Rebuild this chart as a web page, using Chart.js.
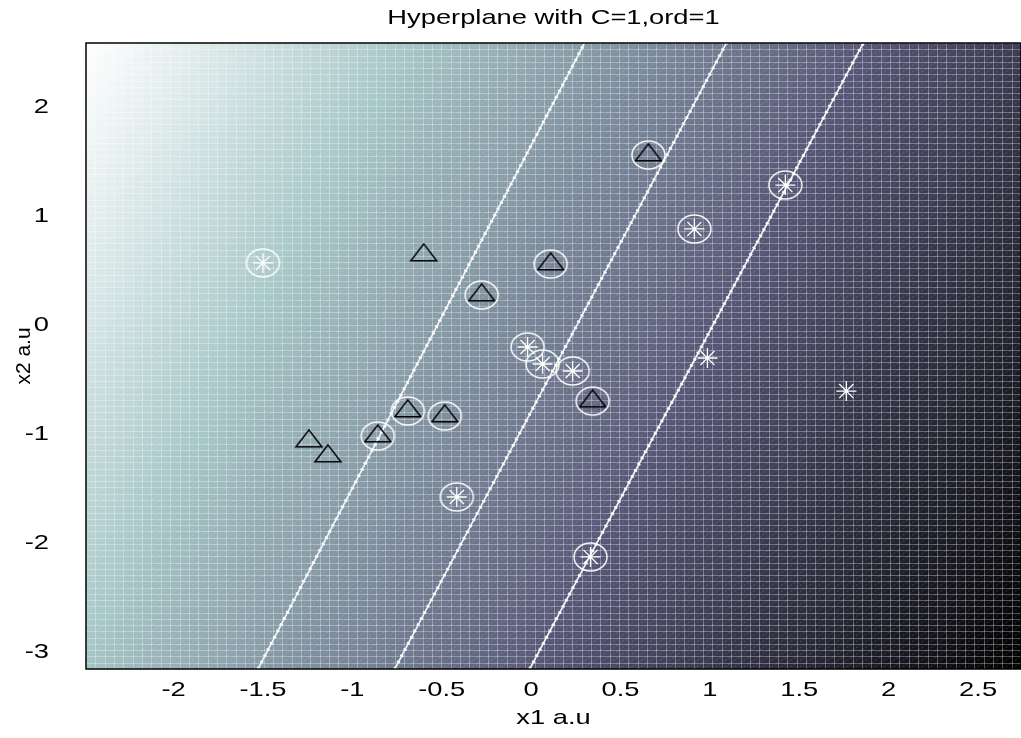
<!DOCTYPE html>
<html>
<head>
<meta charset="utf-8">
<title>Hyperplane with C=1,ord=1</title>
<script src="https://cdn.jsdelivr.net/npm/chart.js@4.4.1/dist/chart.umd.min.js"></script>
<style>
  html, body { margin: 0; padding: 0; background: #fff; }
  #wrap { width: 1021px; height: 738px; }
</style>
</head>
<body>
<div id="wrap"><canvas id="chart" width="1021" height="738"></canvas></div>
<script>
// class +1 samples (triangles), 1 = support vector (circled)
const triX  = [0.656, -0.601, 0.109, -0.277, -1.243, -1.137, -0.858, -0.690, -0.483, 0.344];
const triY  = [1.559, 0.642, 0.559, 0.275, -1.065, -1.202, -1.019, -0.789, -0.835, -0.698];
const triSV = [1, 0, 1, 1, 0, 0, 1, 1, 1, 1];

// class -1 samples (asterisks)
const starX  = [-1.500, 1.422, 0.913, -0.020, 0.064, 0.232, 0.986, 1.763, -0.416, 0.332];
const starY  = [0.569, 1.284, 0.881, -0.202, -0.358, -0.422, -0.303, -0.606, -1.578, -2.128];
const starSV = [1, 1, 1, 1, 1, 1, 0, 0, 1, 1];

// hyperplane and the two margins, x at the bottom / top of the axes
const lineY      = [-3.156, 2.587];
const marginPosX = [-1.528, 0.299];
const planeX     = [-0.763, 1.092];
const marginNegX = [-0.008, 1.858];

// decision function f = w1*x1 + w2*x2 + b (shaded background)
const weights = [-1.307, 0.419];
const bias = 0.327;

const xRange = [-2.49, 2.74];
const yRange = [-3.156, 2.587];
const xTicks = [-2, -1.5, -1, -0.5, 0, 0.5, 1, 1.5, 2, 2.5];
const yTicks = [-3, -2, -1, 0, 1, 2];

const FONT = { family: '"Liberation Sans", Arial, sans-serif', size: 21, weight: 'normal' };
const STRETCH = 1.3;

// matlab "bone" colormap
function bone(t) {
  t = Math.min(1, Math.max(0, t));
  const hr = Math.min(1, t / 0.375);
  const hg = Math.min(1, Math.max(0, (t - 0.375) / 0.375));
  const hb = Math.max(0, (t - 0.75) / 0.25);
  return [(7 * t + hb) / 8, (7 * t + hg) / 8, (7 * t + hr) / 8].map(v => Math.round(v * 255));
}

function triangleMarker() {
  const c = document.createElement('canvas');
  c.width = 30; c.height = 24;
  const g = c.getContext('2d');
  g.strokeStyle = '#000'; g.lineWidth = 1.5;
  g.beginPath();
  g.moveTo(15, 0.9); g.lineTo(28, 17.8); g.lineTo(2, 17.8); g.closePath();
  g.stroke();
  return c;
}

function circleMarker() {
  const c = document.createElement('canvas');
  c.width = 37; c.height = 32;
  const g = c.getContext('2d');
  g.strokeStyle = 'rgba(255,255,255,0.95)'; g.lineWidth = 1.5;
  g.beginPath();
  g.ellipse(18.5, 16, 16.5, 14, 0, 0, Math.PI * 2);
  g.stroke();
  return c;
}

// wide text like the reference rendering (horizontal text only)
const stretchText = {
  id: 'stretchText',
  beforeInit(chart) {
    const ctx = chart.ctx;
    const orig = ctx.fillText.bind(ctx);
    ctx.fillText = function (t, x, y) {
      const m = this.getTransform();
      if (Math.abs(m.b) > 0.5) { orig(t, x, y); return; }
      this.save();
      this.translate(x, y);
      this.scale(STRETCH, 1);
      orig(t, 0, 0);
      this.restore();
    };
  }
};

// pcolor-like shaded mesh of the decision function
const meshPlugin = {
  id: 'mesh',
  beforeDatasetsDraw(chart) {
    const { ctx, chartArea: a, scales: { x, y } } = chart;
    const n = 100;
    const xs = [], ys = [];
    for (let i = 0; i <= n; i++) {
      xs.push(xRange[0] + (xRange[1] - xRange[0]) * i / n);
      ys.push(yRange[0] + (yRange[1] - yRange[0]) * i / n);
    }
    const f = (u, v) => weights[0] * u + weights[1] * v + bias;
    const corners = [f(xs[0], ys[0]), f(xs[n], ys[0]), f(xs[0], ys[n]), f(xs[n], ys[n])];
    const lo = Math.min(...corners), hi = Math.max(...corners);
    const px = xs.map(v => x.getPixelForValue(v));
    const py = ys.map(v => y.getPixelForValue(v));

    ctx.save();
    ctx.beginPath(); ctx.rect(a.left, a.top, a.width, a.height); ctx.clip();
    for (let i = 0; i < n; i++) {
      for (let j = 0; j < n; j++) {
        const c = bone((f((xs[i] + xs[i + 1]) / 2, (ys[j] + ys[j + 1]) / 2) - lo) / (hi - lo));
        ctx.fillStyle = 'rgb(' + c.join(',') + ')';
        ctx.fillRect(px[i], py[j + 1], px[i + 1] - px[i] + 0.7, py[j] - py[j + 1] + 0.7);
      }
    }
    // cell edges
    ctx.strokeStyle = 'rgba(255,255,255,0.3)';
    ctx.lineWidth = 1;
    ctx.beginPath();
    px.forEach(p => { const q = Math.round(p) + 0.5; ctx.moveTo(q, a.top); ctx.lineTo(q, a.bottom); });
    py.forEach(p => { const q = Math.round(p) + 0.5; ctx.moveTo(a.left, q); ctx.lineTo(a.right, q); });
    ctx.stroke();
    // faint diagonals of the triangulated faces
    ctx.strokeStyle = 'rgba(255,255,255,0.18)';
    ctx.setLineDash([2, 2]);
    ctx.beginPath();
    for (let i = 0; i < n; i++) {
      for (let j = 0; j < n; j++) {
        ctx.moveTo(px[i], py[j]);
        ctx.lineTo(px[i + 1], py[j + 1]);
      }
    }
    ctx.stroke();
    ctx.restore();
  }
};

const framePlugin = {
  id: 'frame',
  afterDraw(chart) {
    const { ctx, chartArea: a } = chart;
    ctx.save();
    ctx.strokeStyle = '#000';
    ctx.lineWidth = 1.5;
    ctx.strokeRect(a.left, a.top, a.right - a.left, a.bottom - a.top);
    ctx.restore();
  }
};

const pts = (xa, ya, keep) => xa.map((v, i) => ({ x: v, y: ya[i] })).filter((p, i) => !keep || keep[i]);
const linePts = xa => lineY.map((v, i) => ({ x: xa[i], y: v }));

function lineSet(label, xa, dashed) {
  return {
    type: 'line', label, data: linePts(xa),
    borderColor: dashed ? 'rgba(255,255,255,0.9)' : 'rgba(255,255,255,0.95)',
    borderWidth: dashed ? 3.5 : 1.6,
    borderDash: dashed ? [2, 5] : [],
    pointRadius: 0, fill: false, order: 5
  };
}

new Chart(document.getElementById('chart'), {
  type: 'scatter',
  data: {
    datasets: [
      lineSet('f = +1', marginPosX, false),
      lineSet('f = +1 marks', marginPosX, true),
      lineSet('f = 0', planeX, false),
      lineSet('f = 0 marks', planeX, true),
      lineSet('f = -1', marginNegX, false),
      lineSet('f = -1 marks', marginNegX, true),
      {
        label: 'class 1', data: pts(triX, triY),
        pointStyle: triangleMarker(), pointRadius: 12, order: 2
      },
      {
        label: 'class 2', data: pts(starX, starY),
        pointStyle: 'star', pointRadius: 10, borderColor: '#fff', borderWidth: 1.3,
        backgroundColor: 'transparent', order: 2
      },
      {
        label: 'support vectors',
        data: pts(triX, triY, triSV).concat(pts(starX, starY, starSV)),
        pointStyle: circleMarker(), pointRadius: 16, order: 1
      }
    ]
  },
  options: {
    responsive: false,
    animation: false,
    events: [],
    layout: { padding: 0, autoPadding: false },
    plugins: {
      legend: { display: false },
      tooltip: { enabled: false },
      title: {
        display: true, fullSize: false, text: 'Hyperplane with C=1,ord=1', color: '#000',
        font: FONT, padding: { top: 5.4, bottom: 12.4 }
      }
    },
    scales: {
      x: {
        type: 'linear', min: xRange[0], max: xRange[1],
        afterBuildTicks: s => { s.ticks = xTicks.map(v => ({ value: v })); },
        afterFit: s => { s.height = 69; s.paddingLeft = 0; s.paddingRight = 0; },
        grid: { display: false, drawTicks: false },
        border: { display: false },
        ticks: { color: '#000', font: FONT, padding: 9, maxRotation: 0, autoSkip: false, callback: v => String(v) },
        title: { display: true, text: 'x1 a.u', color: '#000', font: FONT, padding: { top: 0, bottom: 7 } }
      },
      y: {
        type: 'linear', min: yRange[0], max: yRange[1],
        afterBuildTicks: s => { s.ticks = yTicks.map(v => ({ value: v })); },
        afterFit: s => { s.width = 86; s.paddingTop = 0; s.paddingBottom = 0; },
        grid: { display: false, drawTicks: false },
        border: { display: false },
        ticks: { color: '#000', font: FONT, padding: 37, autoSkip: false, callback: v => String(v) },
        title: { display: true, text: 'x2 a.u', color: '#000', font: FONT, padding: { top: 12, bottom: 0 } }
      }
    }
  },
  plugins: [stretchText, meshPlugin, framePlugin]
});
</script>
</body>
</html>
